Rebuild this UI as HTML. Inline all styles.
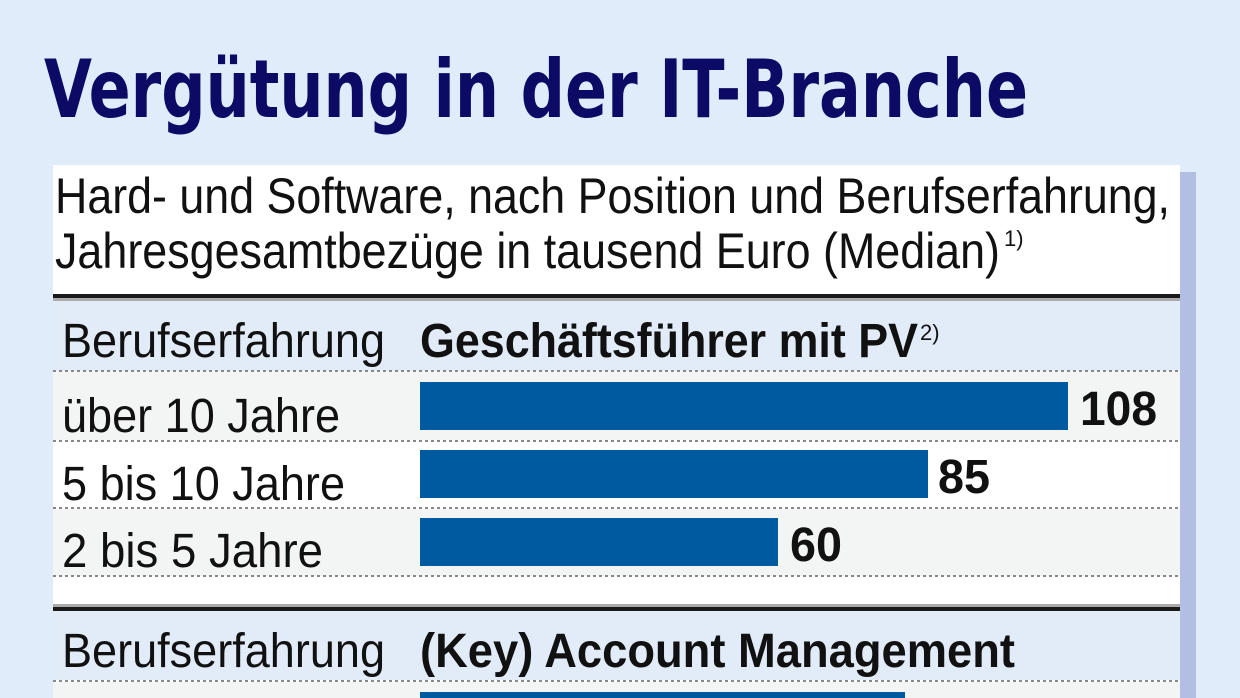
<!DOCTYPE html>
<html><head><meta charset="utf-8"><style>
html,body{margin:0;padding:0;background:#e1ecfb;}
svg{display:block}
text{font-family:"Liberation Sans Narrow","Liberation Sans",sans-serif;}
</style></head><body>
<svg width="1240" height="698" viewBox="0 0 1240 698">
<rect width="1240" height="698" fill="#e1ecfb"/>
<text x="44" y="117" font-size="80" font-weight="bold" fill="#0c0a64" textLength="984" lengthAdjust="spacingAndGlyphs" style="font-family:'DejaVu Sans','Liberation Sans',sans-serif">Vergütung in der IT-Branche</text>
<rect x="1180" y="172" width="16" height="526" fill="#b3bfe2"/>
<rect x="53" y="165" width="1127" height="533" fill="#ffffff"/>
<text x="55" y="213" font-size="50" fill="#111" textLength="1115" lengthAdjust="spacingAndGlyphs">Hard- und Software, nach Position und Berufserfahrung,</text>
<text x="55" y="268" font-size="50" fill="#111" textLength="945" lengthAdjust="spacingAndGlyphs">Jahresgesamtbezüge in tausend Euro (Median)</text>
<text x="1004" y="246" font-size="22" fill="#111">1)</text>
<rect x="53" y="294" width="1127" height="4" fill="#1a1a1a"/>
<rect x="53" y="298" width="1127" height="3" fill="#aaa"/>
<rect x="53" y="301" width="1127" height="70" fill="#e1ecf8"/>
<rect x="53" y="372" width="1127" height="68" fill="#f3f4f4"/>
<rect x="53" y="509" width="1127" height="67" fill="#f3f4f4"/>
<g stroke="#888" stroke-width="2" stroke-dasharray="3,3">
<line x1="53" y1="371" x2="1180" y2="371"/>
<line x1="53" y1="441" x2="1180" y2="441"/>
<line x1="53" y1="508" x2="1180" y2="508"/>
<line x1="53" y1="576" x2="1180" y2="576"/>
<line x1="53" y1="681" x2="1180" y2="681"/>
</g>
<text x="62" y="357" font-size="48" fill="#111" textLength="323" lengthAdjust="spacingAndGlyphs">Berufserfahrung</text>
<text x="420" y="357" font-size="48" font-weight="bold" fill="#111" textLength="498" lengthAdjust="spacingAndGlyphs">Geschäftsführer mit PV</text>
<text x="920" y="340" font-size="22" fill="#111">2)</text>
<rect x="420" y="382" width="648" height="48" fill="#005a9e"/>
<rect x="420" y="450" width="508" height="48" fill="#005a9e"/>
<rect x="420" y="518" width="358" height="48" fill="#005a9e"/>
<text x="62" y="432" font-size="48" fill="#111" textLength="278" lengthAdjust="spacingAndGlyphs">über 10 Jahre</text>
<text x="62" y="500" font-size="48" fill="#111" textLength="283" lengthAdjust="spacingAndGlyphs">5 bis 10 Jahre</text>
<text x="62" y="567" font-size="48" fill="#111" textLength="261" lengthAdjust="spacingAndGlyphs">2 bis 5 Jahre</text>
<text x="1080" y="425" font-size="48" font-weight="bold" fill="#111" textLength="77" lengthAdjust="spacingAndGlyphs">108</text>
<text x="938" y="493" font-size="48" font-weight="bold" fill="#111" textLength="52" lengthAdjust="spacingAndGlyphs">85</text>
<text x="790" y="561" font-size="48" font-weight="bold" fill="#111" textLength="52" lengthAdjust="spacingAndGlyphs">60</text>
<rect x="53" y="604" width="1127" height="3" fill="#aaa"/>
<rect x="53" y="607" width="1127" height="4" fill="#1a1a1a"/>
<rect x="53" y="611" width="1127" height="69" fill="#e1ecf8"/>
<text x="62" y="667" font-size="48" fill="#111" textLength="323" lengthAdjust="spacingAndGlyphs">Berufserfahrung</text>
<text x="420" y="667" font-size="48" font-weight="bold" fill="#111" textLength="595" lengthAdjust="spacingAndGlyphs">(Key) Account Management</text>
<rect x="53" y="682" width="1127" height="16" fill="#f3f4f4"/>
<rect x="420" y="692" width="485" height="6" fill="#005a9e"/>
</svg>
</body></html>
